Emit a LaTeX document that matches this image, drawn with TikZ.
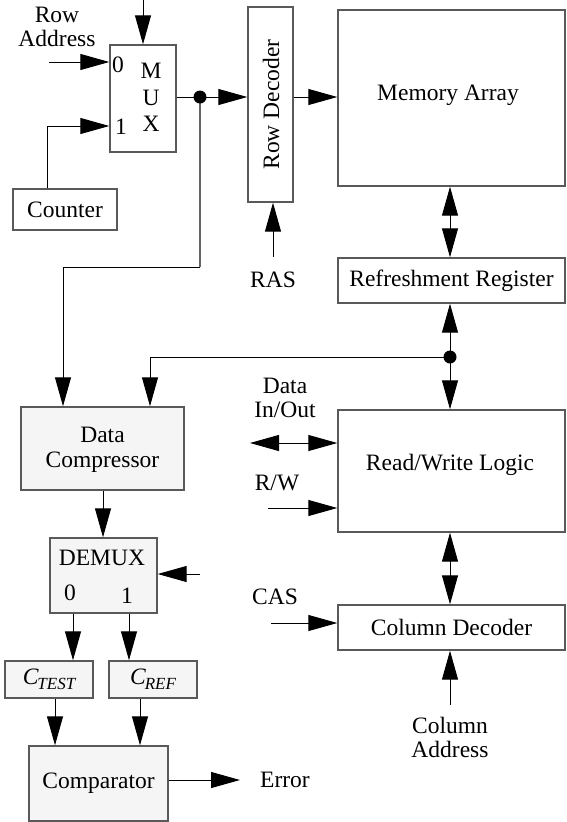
\documentclass[tikz,border=0pt]{standalone}
\usepackage{fontspec}
\setmainfont{Liberation Serif}
\usetikzlibrary{arrows.meta}
\begin{document}
\begin{tikzpicture}[x=1pt,y=-1pt,
  every node/.style={font=\fontsize{23.5}{26}\selectfont, inner sep=0pt},
  blk/.style={draw=black!65, line width=1.4pt, rectangle},
  gblk/.style={blk, fill=black!4},
  lbl/.style={align=center},
  arr/.style={line width=1pt, -{Triangle[length=29pt,width=16pt]}},
  darr/.style={line width=1pt, {Triangle[length=29pt,width=16pt]}-{Triangle[length=29pt,width=16pt]}},
  wire/.style={line width=1pt},
  dotmark/.style={circle, fill=black, minimum size=13pt, inner sep=0pt}
]
\useasboundingbox (0,0) rectangle (566,822);

% blocks
\node[blk, minimum width=66pt, minimum height=107pt] (mux) at (143,98.5) {};
\node (m0) at (118,65) {0};
\node (m1) at (121,127) {1};
\node (mM) at (151,71) {M};
\node (mU) at (151,98) {U};
\node (mX) at (151,124) {X};
\node[blk, minimum width=104pt, minimum height=41pt] (cnt) at (65,209.5) {Counter};
\node[blk, minimum width=45pt, minimum height=195pt] (rowdec) at (270.5,104.5) {};
\node[rotate=90] (rowdectxt) at (271,104.5) {Row Decoder};
\node[blk, minimum width=227pt, minimum height=176pt] (mem) at (451.5,98) {};
\node (memtxt) at (448,95) {Memory Array};
\node[blk, minimum width=227pt, minimum height=45pt] (ref) at (451.5,280.5) {Refreshment Register};
\node[blk, minimum width=227pt, minimum height=122pt] (rw) at (451.5,471) {};
\node (rwtxt) at (450,465) {Read/Write Logic};
\node[blk, minimum width=227pt, minimum height=45pt] (col) at (451.5,627.5) {Column Decoder};
\node[gblk, minimum width=163pt, minimum height=83pt, lbl] (dc) at (102.5,448.5) {};
\node[lbl] (dctxt) at (102.5,450) {Data\\[-1pt]Compressor};
\node[gblk, minimum width=107pt, minimum height=75pt] (demux) at (103.5,575.5) {};
\node (dmtxt) at (102,558) {DEMUX};
\node (dm0) at (70,593) {0};
\node (dm1) at (127,596) {1};
\node[gblk, minimum width=88pt, minimum height=37pt] (ctest) at (49,679.5) {\textit{C\kern-1pt\raisebox{-0.2em}{\fontsize{17}{17}\selectfont TEST}}};
\node[gblk, minimum width=88pt, minimum height=37pt] (cref) at (153,679.5) {\textit{C\kern-1pt\raisebox{-0.2em}{\fontsize{17}{17}\selectfont REF}}};
\node[gblk, minimum width=139pt, minimum height=75pt] (comp) at (98.5,783.5) {Comparator};

% labels
\node[lbl] (ratxt) at (57,27) {Row\\[-2pt]Address};
\node (rastxt) at (273,280) {RAS};
\node[lbl] (diotxt) at (285,398) {Data\\[-2pt]In/Out};
\node (rwlbl) at (277,483) {R/W};
\node (castxt) at (275,597) {CAS};
\node (errtxt) at (285,780) {Error};
\node[lbl] (catxt) at (450,737) {Column\\[-2pt]Address};

% coordinates
\coordinate (muxtop) at (143,0);
\coordinate (rain) at (49,62);
\coordinate (c1) at (47,126);
\coordinate (d1) at (200,97);
\coordinate (bend1) at (200,267);
\coordinate (bend2) at (63,267);
\coordinate (rasin) at (273,257);
\coordinate (cx) at (450,0);
\coordinate (d2) at (450,357);
\coordinate (bend3) at (150,357);
\coordinate (dmx) at (103,0);
\coordinate (dmctl) at (200,574);
\coordinate (x0) at (73,0);
\coordinate (x1) at (129,0);
\coordinate (x2) at (55,0);
\coordinate (x3) at (140,0);
\coordinate (errout) at (240,780);
\coordinate (dioin) at (250,443);
\coordinate (rwin) at (268,508);
\coordinate (casin) at (271,623);
\coordinate (cain) at (450,705);

% connectors
\draw[arr] (muxtop) -- (mux.north);
\draw[arr] (rain) -- (rain -| mux.west);
\draw[arr] (cnt.north -| c1) -- (c1) -- (c1 -| mux.west);
\draw[wire] (mux.east |- d1) -- (d1);
\draw[arr] (d1) -- (d1 -| rowdec.west);
\draw[line width=1.4pt, draw=black!60] (d1) -- (bend1);
\draw[arr] (bend1) -- (bend2) -- (bend2 |- dc.north);
\node[dotmark] (dot1) at (d1) {};
\draw[arr] (rowdec.east |- d1) -- (mem.west |- d1);
\draw[arr] (rasin) -- (rowdec.south -| rasin);
\draw[darr] (mem.south -| cx) -- (ref.north -| cx);
\draw[arr] (d2) -- (ref.south -| cx);
\draw[arr] (d2) -- (rw.north -| cx);
\draw[arr] (d2) -- (bend3) -- (bend3 |- dc.north);
\node[dotmark] (dot2) at (d2) {};
\draw[arr] (dc.south -| dmx) -- (demux.north -| dmx);
\draw[arr] (dmctl) -- (dmctl -| demux.east);
\draw[arr] (demux.south -| x0) -- (ctest.north -| x0);
\draw[arr] (demux.south -| x1) -- (cref.north -| x1);
\draw[arr] (ctest.south -| x2) -- (comp.north -| x2);
\draw[arr] (cref.south -| x3) -- (comp.north -| x3);
\draw[arr] (comp.east |- errout) -- (errout);
\draw[darr] (dioin) -- (dioin -| rw.west);
\draw[arr] (rwin) -- (rwin -| rw.west);
\draw[arr] (casin) -- (casin -| col.west);
\draw[darr] (rw.south -| cx) -- (col.north -| cx);
\draw[arr] (cain) -- (col.south -| cain);
\end{tikzpicture}
\end{document}
